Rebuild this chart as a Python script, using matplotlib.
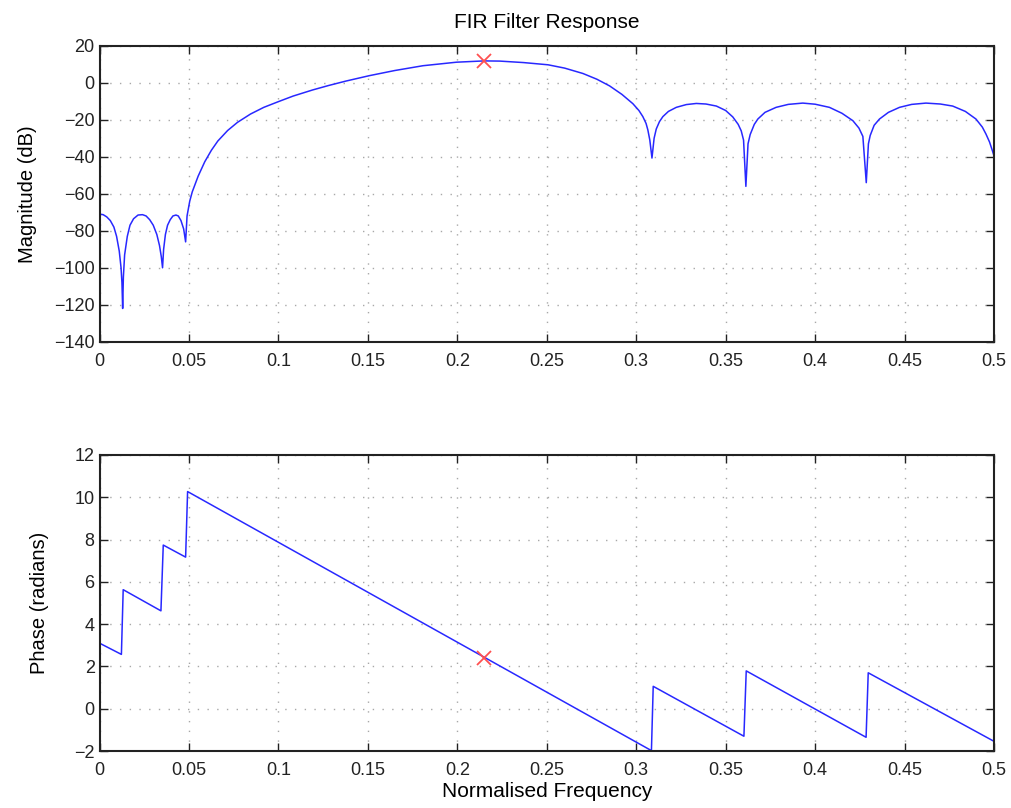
import numpy as np
import matplotlib.pyplot as plt

plt.rcParams['font.family'] = ['Liberation Sans', 'DejaVu Sans']

# magnitude response (normalised freq, dB)
mag_f = [0, 0.002, 0.004, 0.006, 0.008, 0.0095, 0.011, 0.012, 0.0125, 0.0129,
         0.0133, 0.014, 0.0155, 0.017, 0.019, 0.0215, 0.024, 0.026, 0.028, 0.030,
         0.032, 0.0335, 0.0345, 0.0352, 0.0358, 0.0368, 0.038, 0.0395, 0.041, 0.0427,
         0.044, 0.0455, 0.047, 0.0481,
         0.0489, 0.0504, 0.0518, 0.0551, 0.0588, 0.0625, 0.0661, 0.0716, 0.0771, 0.0844,
         0.0918, 0.100, 0.1082, 0.1191, 0.128, 0.1377, 0.1507, 0.165, 0.1808, 0.1995,
         0.215, 0.2237, 0.237, 0.2507, 0.260, 0.2702, 0.278,
         0.2851, 0.292, 0.2981, 0.3015, 0.3037, 0.3055, 0.3065, 0.3076, 0.3088, 0.3100,
         0.3112, 0.3130, 0.3149, 0.318, 0.3224, 0.328, 0.3336, 0.339, 0.3448, 0.350,
         0.354, 0.357, 0.3587, 0.3600, 0.3613, 0.3625, 0.3637, 0.366, 0.368, 0.372,
         0.3782, 0.385, 0.3931, 0.400, 0.408, 0.415, 0.4211, 0.4245, 0.4267, 0.4286,
         0.4298, 0.4308, 0.433, 0.436, 0.441, 0.4472, 0.454, 0.462, 0.470, 0.4769,
         0.484, 0.4899, 0.4935, 0.4955, 0.4975, 0.4992, 0.5]
mag_db = [-71, -71.3, -72.5, -74.5, -78, -83, -91, -100, -108, -122,
          -105, -93, -83, -77, -73.5, -71.5, -71.3, -72, -74, -77,
          -82, -88, -94, -100, -90, -82, -77, -74, -72, -71.5,
          -72, -74.5, -79, -86,
          -72, -64, -59, -50.5, -42.7, -36.5, -31.5, -25.8, -21.4, -16.9,
          -13.3, -10.2, -7.2, -3.9, -1.5, 0.9, 3.8, 6.6, 9.2, 11.1,
          11.8, 11.7, 10.9, 9.7, 7.9, 5.0, 1.9,
          -1.7, -6.3, -11.3, -15, -18.3, -22, -25.5, -31, -40.7, -30,
          -25, -21, -18.3, -15.5, -13.3, -11.8, -11.2, -11.5, -12.6, -15,
          -18.5, -22.5, -26, -31, -56, -33, -28, -22.5, -19.6, -16,
          -13.3, -11.7, -11, -11.6, -13.3, -16.5, -20.5, -24.5, -29, -54,
          -33, -28.5, -23, -19.6, -16, -13.3, -11.7, -11, -11.5, -12.6,
          -15.5, -19.6, -24, -27.7, -32, -37, -39.5]

# phase response (normalised freq, radians)
ph_f = [0, 0.0122, 0.0132, 0.0343, 0.0356, 0.0481, 0.0492, 0.3085, 0.3095,
        0.3602, 0.3615, 0.4285, 0.4297, 0.5]
ph_rad = [3.1, 2.57, 5.63, 4.63, 7.74, 7.17, 10.27, -1.98, 1.06,
          -1.3, 1.79, -1.35, 1.7, -1.54]

# peak marker
pk_f = 0.2149
pk_db = 11.9
pk_ph = 2.41

xticks = np.arange(0, 0.501, 0.05)
xlabels = ['0', '0.05', '0.1', '0.15', '0.2', '0.25', '0.3', '0.35', '0.4', '0.45', '0.5']

fig = plt.figure(figsize=(10.12, 8.08), dpi=100)
ax1 = fig.add_axes([0.0984, 0.577, 0.8838, 0.3664])
ax2 = fig.add_axes([0.0984, 0.0705, 0.8838, 0.3664])

def style_axes(ax):
    ax.set_xlim(0, 0.5)
    ax.set_xticks(xticks)
    ax.set_xticklabels(xlabels)
    ax.grid(True, color='#a8a8a8', linestyle=(0, (1, 6)), linewidth=1.0)
    ax.tick_params(direction='in', top=True, right=True, length=6, width=1,
                   labelsize=13, colors='#222222')
    ax.tick_params(axis='x', pad=8)
    ax.tick_params(axis='y', pad=3.5)
    for s in ax.spines.values():
        s.set_linewidth(1.5)
        s.set_color('#222222')

# 幅度
ax1.plot(mag_f, mag_db, color='#2828ff', linewidth=1.1)
ax1.plot(pk_f, pk_db, 'x', color='#ff5050', markersize=10, markeredgewidth=1.3)
ax1.set_ylim(-140, 20)
ax1.set_yticks(np.arange(-140, 21, 20))
style_axes(ax1)
ax1.set_ylabel('Magnitude (dB)', fontsize=14.5)
ax1.yaxis.set_label_coords(-0.070, 0.5)
ax1.set_title('FIR Filter Response', fontsize=15, pad=12.5)

# 相位
ax2.plot(ph_f, ph_rad, color='#2828ff', linewidth=1.1)
ax2.plot(pk_f, pk_ph, 'x', color='#ff5050', markersize=10, markeredgewidth=1.3)
ax2.set_ylim(-2, 12)
ax2.set_yticks(np.arange(-2, 13, 2))
style_axes(ax2)
ax2.set_ylabel('Phase (radians)', fontsize=14.5)
ax2.yaxis.set_label_coords(-0.057, 0.5)
ax2.set_xlabel('Normalised Frequency', fontsize=15)
ax2.xaxis.set_label_coords(0.5, -0.105)

plt.savefig('out.png', dpi=100)
